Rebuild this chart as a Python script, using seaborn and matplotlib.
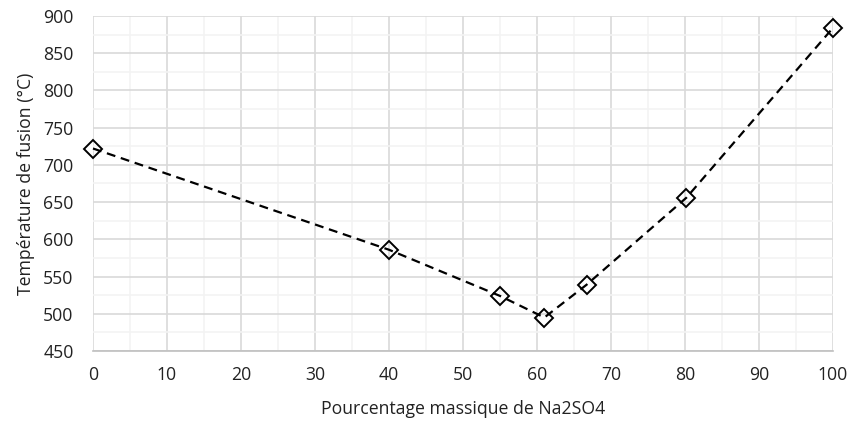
import matplotlib
matplotlib.use("Agg")
import matplotlib.pyplot as plt
import seaborn as sns
import pandas as pd
from matplotlib.ticker import MultipleLocator

pct_na2so4 = [0, 40, 55, 61, 66.7, 80.2, 100]
temp_fusion = [722, 586, 524, 495, 539, 656, 884]

df = pd.DataFrame({"x": pct_na2so4, "y": temp_fusion})

sns.set_theme(style="white")
plt.rcParams['font.family'] = ['Open Sans', 'DejaVu Sans']

fig = plt.figure(figsize=(8.51, 4.25), dpi=100)
ax = fig.add_axes([0.1093, 0.1741, 0.8695, 0.7883])

sns.lineplot(data=df, x="x", y="y", ax=ax, color="black", linewidth=1.6,
             linestyle=(0, (4, 2.6)), marker="D", markersize=9,
             markerfacecolor="none", markeredgecolor="black", markeredgewidth=1.4,
             clip_on=False, zorder=5)

ax.set_xlim(0, 100)
ax.set_ylim(450, 900)
ax.xaxis.set_major_locator(MultipleLocator(10))
ax.xaxis.set_minor_locator(MultipleLocator(5))
ax.yaxis.set_major_locator(MultipleLocator(50))
ax.yaxis.set_minor_locator(MultipleLocator(25))
ax.grid(which="major", color="#d9d9d9", linewidth=1.2)
ax.grid(which="minor", color="#f3f3f3", linewidth=1.2)
ax.set_axisbelow(True)
for s in ["top", "right", "left"]:
    ax.spines[s].set_visible(False)
ax.spines["bottom"].set_color("#bfbfbf")
ax.spines["bottom"].set_linewidth(1.2)
ax.tick_params(axis="both", which="both", length=0, labelsize=12.7, colors="#222222")
ax.tick_params(axis="x", pad=11)
ax.tick_params(axis="y", pad=14)
ax.set_xlabel("Pourcentage massique de Na2SO4", fontsize=12.7, color="#222222", labelpad=11)
ax.set_ylabel("Température de fusion (°C)", fontsize=12.7, color="#222222", labelpad=6)

fig.savefig("out.png", dpi=100)
